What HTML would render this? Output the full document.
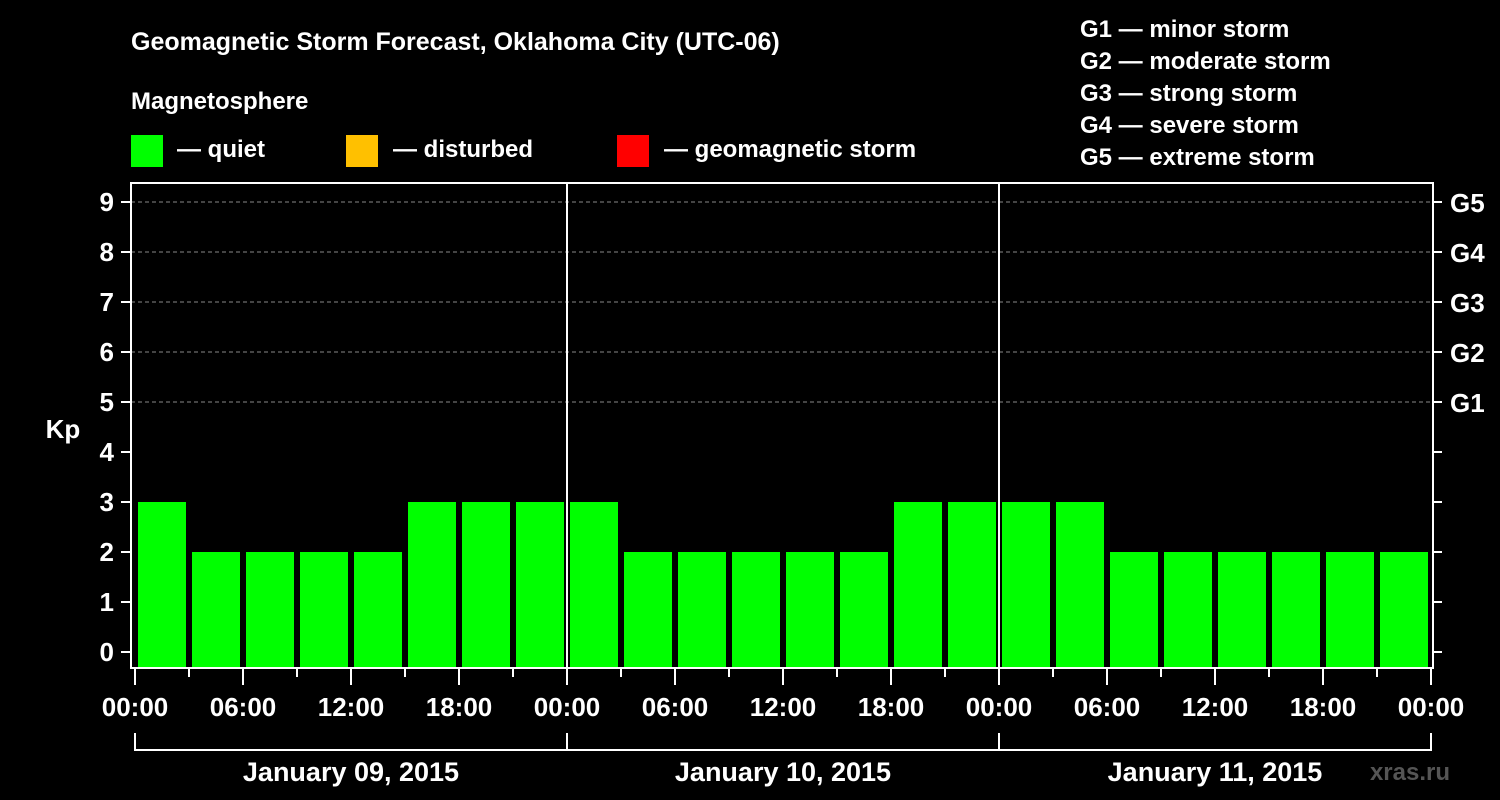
<!DOCTYPE html>
<html><head><meta charset="utf-8"><style>
html,body{margin:0;padding:0;background:#000;}
svg{display:block;font-family:"Liberation Sans",Arial,sans-serif;font-weight:bold;}
</style></head><body>
<svg id="chart" width="1500" height="800" viewBox="0 0 1500 800">
<rect width="1500" height="800" fill="#000"/>
<text x="131" y="50" fill="#fff" font-size="25">Geomagnetic Storm Forecast, Oklahoma City (UTC-06)</text>
<text x="131" y="109" fill="#fff" font-size="24">Magnetosphere</text>
<g><rect x="131" y="135" width="32" height="32" fill="#00ff00"/><text x="177" y="157" fill="#fff" font-size="24">— quiet</text></g>
<g><rect x="346" y="135" width="32" height="32" fill="#ffc000"/><text x="393" y="157" fill="#fff" font-size="24">— disturbed</text></g>
<g><rect x="617" y="135" width="32" height="32" fill="#ff0000"/><text x="664" y="157" fill="#fff" font-size="24">— geomagnetic storm</text></g>
<g fill="#fff" font-size="24">
<text x="1080" y="37">G1 — minor storm</text>
<text x="1080" y="69">G2 — moderate storm</text>
<text x="1080" y="101">G3 — strong storm</text>
<text x="1080" y="133">G4 — severe storm</text>
<text x="1080" y="165">G5 — extreme storm</text>
</g>
<text x="63" y="438" fill="#fff" font-size="26" text-anchor="middle">Kp</text>
<text x="1450" y="780" fill="#555" font-size="24" text-anchor="end">xras.ru</text>
<g id="grid"></g><g id="bars"></g><g id="axes"></g>
</svg>
<script>
const kpValues = [3,2,2,2,2,3,3,3, 3,2,2,2,2,2,3,3, 3,3,2,2,2,2,2,2];
const yTicks = [0,1,2,3,4,5,6,7,8,9];
const gLabels = ["G1","G2","G3","G4","G5"];
const gLevels = [5,6,7,8,9];
const xTickLabels = ["00:00","06:00","12:00","18:00","00:00","06:00","12:00","18:00","00:00","06:00","12:00","18:00","00:00"];
const dayLabels = ["January 09, 2015","January 10, 2015","January 11, 2015"];
const colors = ["#00ff00","#00ff00","#00ff00","#00ff00","#ffc000","#ff0000"];

const NS="http://www.w3.org/2000/svg";
const X0=135, HOUR=18, L=131, R=1433, T=183, B=668;
const xH=h=>X0+h*HOUR;
const yV=v=>652-50*v;
function mk(tag,attrs,parent,text){const e=document.createElementNS(NS,tag);for(const k in attrs)e.setAttribute(k,attrs[k]);if(text!==undefined)e.textContent=text;parent.appendChild(e);return e;}
const grid=document.getElementById('grid'),bars=document.getElementById('bars'),axes=document.getElementById('axes');

gLevels.forEach((v,i)=>{
  const ln=mk('line',{x1:L,x2:R,y1:yV(v),y2:yV(v),stroke:'#888','stroke-dasharray':'4,3','stroke-width':1},grid);
  
  
  const t=mk('text',{x:1450,y:yV(v)+10,fill:'#fff','font-size':26},axes,gLabels[i]);
  
  
});
kpValues.forEach((v,i)=>{
  const c=colors[Math.min(Math.floor(v),5)];
  const r=mk('rect',{x:xH(i*3)+3,y:yV(v),width:3*HOUR-6,height:B-yV(v),fill:c},bars);
  
  
});
const fr=mk('rect',{x:L,y:T,width:R-L,height:B-T,fill:'none',stroke:'#fff','stroke-width':2},axes);


for(let d=1;d<3;d++){const l=mk('line',{x1:xH(d*24),x2:xH(d*24),y1:T,y2:B,stroke:'#fff','stroke-width':2},axes);
  
  }
yTicks.forEach(v=>{
  mk('line',{x1:121,x2:L,y1:yV(v),y2:yV(v),stroke:'#fff','stroke-width':2},axes);
  mk('line',{x1:R,x2:1442,y1:yV(v),y2:yV(v),stroke:'#fff','stroke-width':2},axes);
  const t=mk('text',{x:114,y:yV(v)+9,fill:'#fff','font-size':26,'text-anchor':'end'},axes,String(v));
  
  
});
for(let h=0;h<=72;h+=3){const major=h%6===0;mk('line',{x1:xH(h),x2:xH(h),y1:B,y2:major?685:677,stroke:'#fff','stroke-width':2},axes);}
xTickLabels.forEach((s,i)=>{
  const t=mk('text',{x:xH(i*6),y:716,fill:'#fff','font-size':26,'text-anchor':'middle'},axes,s);
  
  
});
mk('path',{d:`M${xH(0)},733 V750 H${xH(72)} V733 M${xH(24)},733 V750 M${xH(48)},733 V750`,stroke:'#fff','stroke-width':2,fill:'none'},axes);
dayLabels.forEach((s,i)=>{
  const t=mk('text',{x:xH(i*24+12),y:781,fill:'#fff','font-size':27,'text-anchor':'middle'},axes,s);
  
  
});
</script>
</body></html>
